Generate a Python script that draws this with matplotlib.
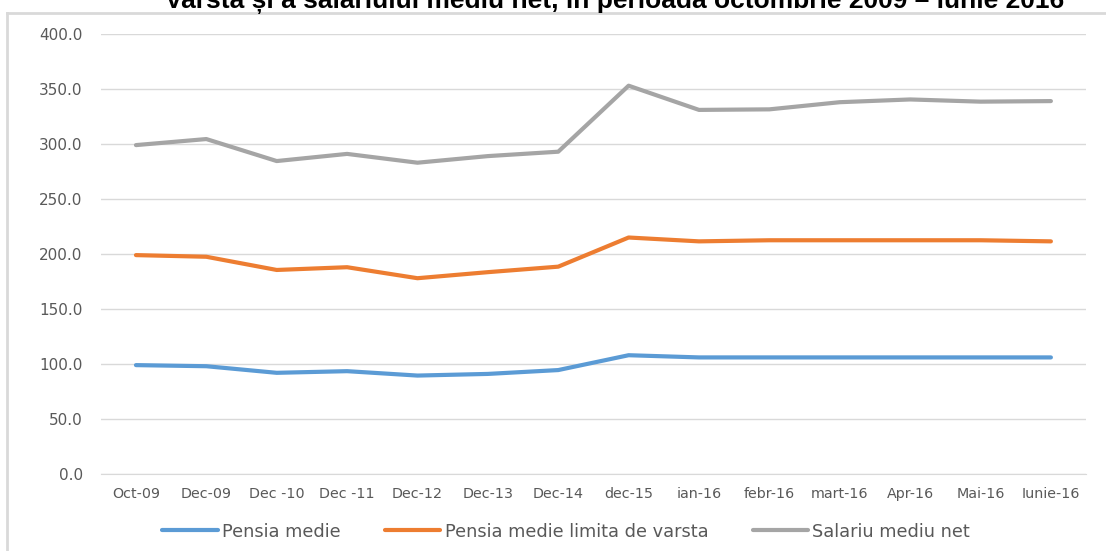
import matplotlib.pyplot as plt
from matplotlib.lines import Line2D

months = ["Oct-09", "Dec-09", "Dec -10", "Dec -11", "Dec-12", "Dec-13", "Dec-14",
          "dec-15", "ian-16", "febr-16", "mart-16", "Apr-16", "Mai-16", "Iunie-16"]
pensia_medie = [99.0, 98.0, 92.0, 93.5, 89.5, 91.0, 94.5,
                108.0, 106.0, 106.0, 106.0, 106.0, 106.0, 106.0]
pensia_limita = [199.0, 197.5, 185.5, 188.0, 178.0, 183.5, 188.5,
                 215.0, 211.5, 212.5, 212.5, 212.5, 212.5, 211.5]
salariu_net = [299.0, 304.5, 284.5, 291.0, 283.0, 289.0, 293.0,
               353.0, 331.0, 331.5, 338.0, 340.5, 338.5, 339.0]
yticks = [0, 50, 100, 150, 200, 250, 300, 350, 400]

font = ["DejaVu Sans"]
grey_txt = "#595959"

fig = plt.figure(figsize=(11.06, 5.51), dpi=100)
ax = fig.add_axes([0.0911, 0.1397, 0.8909, 0.7986])

x = range(len(months))
ax.plot(x, pensia_medie, color="#5b9bd5", lw=3, solid_capstyle="round", label="Pensia medie")
ax.plot(x, pensia_limita, color="#ed7d31", lw=3, solid_capstyle="round",
        label="Pensia medie limita de varsta")
ax.plot(x, salariu_net, color="#a5a5a5", lw=3, solid_capstyle="round", label="Salariu mediu net")

ax.set_xlim(-0.5, len(months) - 0.5)
ax.set_ylim(0, 400)
ax.set_yticks(yticks)
ax.set_yticklabels([f"{v:.1f}" for v in yticks], family=font, fontsize=11, color=grey_txt)
ax.set_xticks(list(x))
ax.set_xticklabels(months, family=font, fontsize=10.3, color=grey_txt)
ax.tick_params(length=0)
ax.tick_params(axis="y", pad=13)
ax.tick_params(axis="x", pad=9)
ax.grid(axis="y", color="#d9d9d9", lw=1)
ax.set_axisbelow(True)
for s in ["top", "right", "left"]:
    ax.spines[s].set_visible(False)
ax.spines["bottom"].set_color("#d9d9d9")

leg = fig.legend(loc="center", bbox_to_anchor=(0.512, 0.035), ncol=3, frameon=False,
                 prop={"family": font, "size": 12.8}, handlelength=3.1, handletextpad=0.25,
                 columnspacing=2.5)
for t in leg.get_texts():
    t.set_color(grey_txt)

fig.text(0.556, 0.9855, "Varsta și a salariului mediu net, în perioada octombrie 2009 – iunie 2016",
         ha="center", va="baseline", family=["Liberation Sans", "DejaVu Sans"],
         fontsize=19, fontweight="bold")

# chart frame (top and left only)
fig.add_artist(Line2D([0.0063, 1.0], [0.977, 0.977], color="#d9d9d9", lw=2))
fig.add_artist(Line2D([0.0063, 0.0063], [0.0, 0.977], color="#d9d9d9", lw=2))

fig.savefig("out.png", dpi=100)
